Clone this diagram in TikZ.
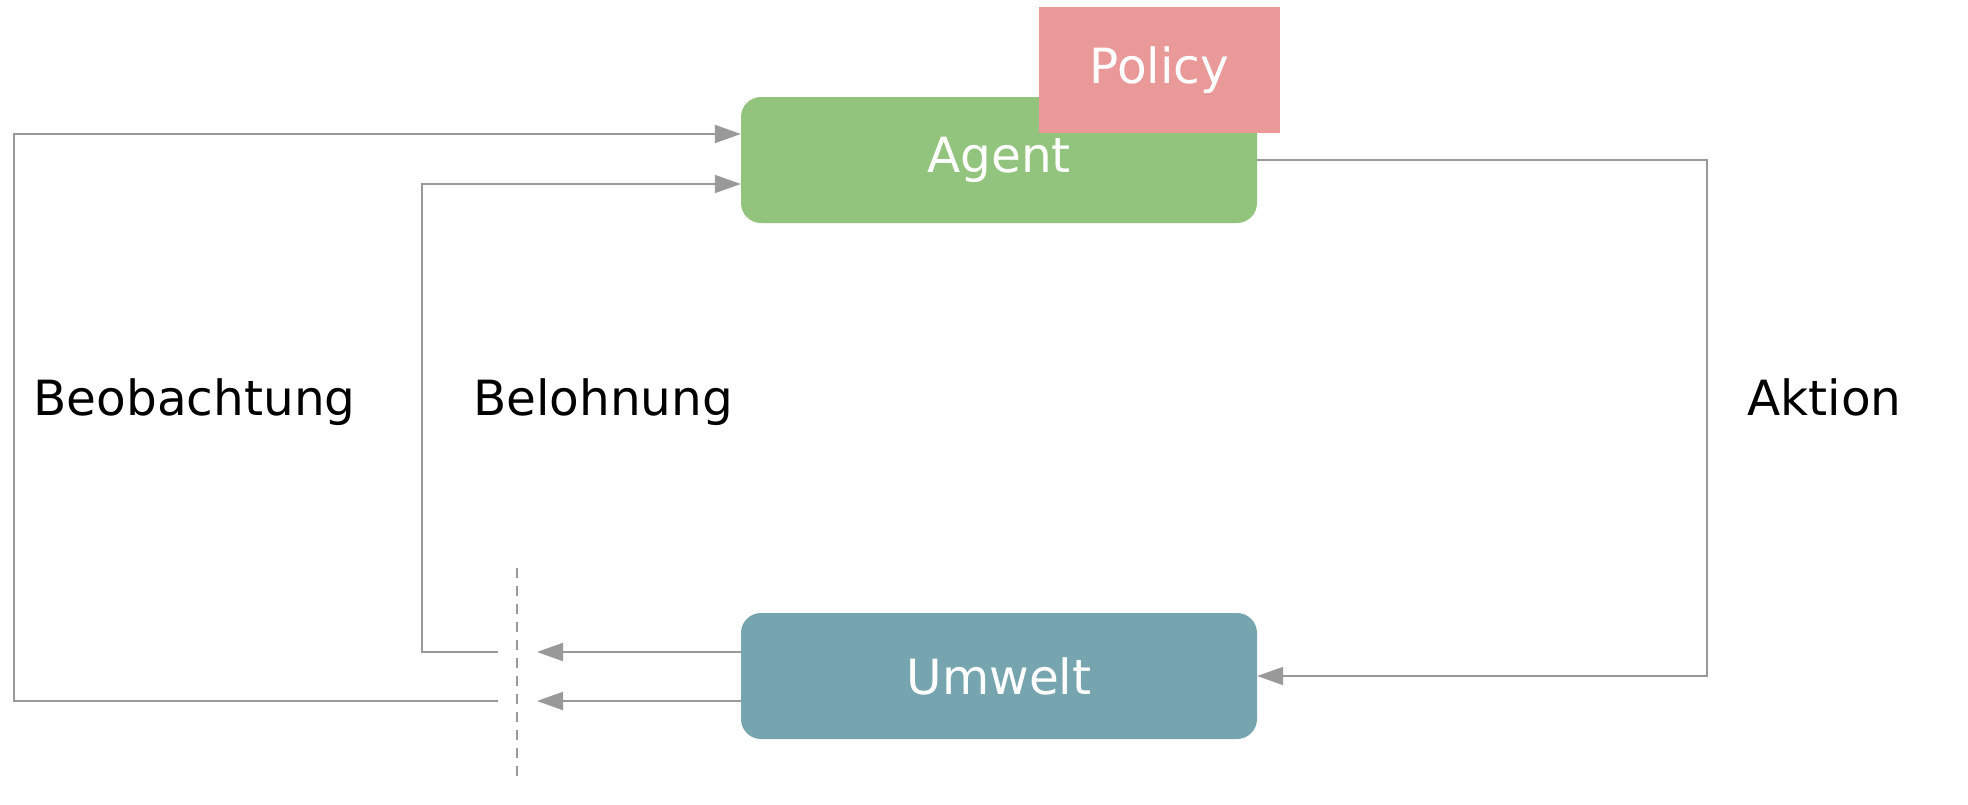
\documentclass[tikz,border=0pt]{standalone}
\usepackage{fontspec}
\setmainfont{DejaVu Sans}
\usetikzlibrary{arrows.meta}
\definecolor{agentgreen}{HTML}{93C47D}
\definecolor{policypink}{HTML}{EA9999}
\definecolor{envteal}{HTML}{76A5AF}
\definecolor{linegrey}{HTML}{999999}
\begin{document}
\begin{tikzpicture}[x=1pt,y=-1pt,
  box/.style={rectangle,rounded corners=20pt,minimum width=516pt,minimum height=126pt,inner sep=0pt,text=white,font=\fontsize{48.5}{58}\selectfont},
  pbox/.style={rectangle,minimum width=241pt,minimum height=126pt,inner sep=0pt,fill=policypink,text=white,font=\fontsize{48.5}{58}\selectfont},
  conn/.style={draw=linegrey,line width=2pt},
  arr/.style={conn,-{Triangle[length=26pt,width=18pt]}},
  lbl/.style={anchor=base,inner sep=0pt,text=black,font=\fontsize{48.5}{58}\selectfont}]
\useasboundingbox (0,0) rectangle (1968,804);
\fill[white] (0,0) rectangle (1968,804);
% nodes
\node[box,fill=agentgreen] (agent) at (999,160) {Agent};
\node[pbox] (policy) at (1159.5,70) {Policy};
\node[box,fill=envteal] (umwelt) at (999,676) {Umwelt};
% free ends
\coordinate (obsfree) at (498,701);
\coordinate (rewfree) at (498,652);
\coordinate (rewtip) at (537,652);
\coordinate (obstip) at (537,701);
\coordinate (dtop) at (517,568);
\coordinate (dbot) at (517,778);
% connectors
\draw[arr] (obsfree) -- (14,701) |- ([yshift=26pt]agent.west);
\draw[arr] (rewfree) -- (422,652) |- ([yshift=-24pt]agent.west);
\draw[arr] ([yshift=24pt]umwelt.west) -- (rewtip);
\draw[arr] ([yshift=-25pt]umwelt.west) -- (obstip);
\draw[arr] (agent.east) -- (1707,160) |- (umwelt.east);
\draw[draw=linegrey,line width=2pt,dash pattern=on 10pt off 8pt] (dtop) -- (dbot);
% labels
\node[lbl] (lobs) at (194.5,415) {Beobachtung};
\node[lbl] (lrew) at (603,415) {Belohnung};
\node[lbl] (lact) at (1824.5,415) {Aktion};
\end{tikzpicture}
\end{document}
